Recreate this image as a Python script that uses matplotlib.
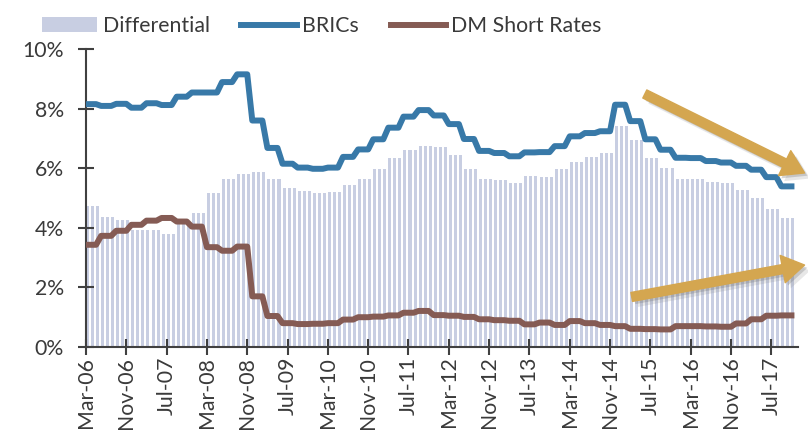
import numpy as np
import matplotlib
matplotlib.use('Agg')
import matplotlib.pyplot as plt
from matplotlib.patches import FancyArrowPatch
import matplotlib.patheffects as pe

plt.rcParams['font.family'] = ['Lato', 'DejaVu Sans']

### readings are quarterly, each one carried for 3 months (Mar-06 .. Nov-17)
brics_q = [8.15, 8.09, 8.16, 8.03, 8.18, 8.12, 8.40, 8.54, 8.54, 8.89,
           9.15, 7.60, 6.68, 6.15, 6.02, 5.98, 6.02, 6.38, 6.63, 6.97,
           7.36, 7.73, 7.95, 7.77, 7.48, 6.98, 6.58, 6.51, 6.40, 6.53,
           6.54, 6.74, 7.07, 7.18, 7.24, 8.13, 7.58, 6.97, 6.62, 6.35,
           6.34, 6.24, 6.19, 6.08, 5.95, 5.70, 5.39]
dm_q = [3.43, 3.73, 3.90, 4.10, 4.24, 4.33, 4.21, 4.04, 3.35, 3.23,
        3.37, 1.70, 1.04, 0.80, 0.77, 0.78, 0.80, 0.92, 1.00, 1.02,
        1.06, 1.15, 1.21, 1.07, 1.05, 1.01, 0.93, 0.90, 0.88, 0.76,
        0.82, 0.74, 0.87, 0.80, 0.74, 0.70, 0.61, 0.60, 0.59, 0.70,
        0.70, 0.69, 0.68, 0.79, 0.93, 1.05, 1.06]
diff_q = [4.72, 4.35, 4.25, 3.93, 3.93, 3.79, 4.19, 4.49, 5.17, 5.65,
          5.79, 5.88, 5.64, 5.33, 5.22, 5.17, 5.20, 5.45, 5.63, 5.96,
          6.33, 6.60, 6.74, 6.71, 6.43, 5.96, 5.63, 5.60, 5.52, 5.75,
          5.72, 5.98, 6.20, 6.38, 6.50, 7.43, 6.95, 6.35, 6.02, 5.64,
          5.63, 5.55, 5.50, 5.28, 5.01, 4.64, 4.33]

tick_labels = ['Mar-06', 'Nov-06', 'Jul-07', 'Mar-08', 'Nov-08', 'Jul-09',
               'Mar-10', 'Nov-10', 'Jul-11', 'Mar-12', 'Nov-12', 'Jul-13',
               'Mar-14', 'Nov-14', 'Jul-15', 'Mar-16', 'Nov-16', 'Jul-17']

brics = np.repeat(brics_q, 3)
dm = np.repeat(dm_q, 3)
diff = np.repeat(diff_q, 3)
months = np.arange(len(brics))

bar_col = '#c8cee2'
blue = '#3879a8'
brown = '#855b54'
arrow_col = '#d4a650'
axis_col = '#404040'
text_col = '#3a3a3a'

fig = plt.figure(figsize=(8.08, 4.33), dpi=100)
ax = fig.add_axes([86 / 808, 1 - 347 / 433, (798 - 86) / 808, (347 - 49) / 433])

ax.bar(months, diff, width=0.6, align='edge', color=bar_col, label='Differential', zorder=1)
ax.plot(months, brics, color=blue, lw=4.3, solid_joinstyle='round', label='BRICs', zorder=3)
ax.plot(months, dm, color=brown, lw=4.3, solid_joinstyle='round', label='DM Short Rates', zorder=3)

ax.set_xlim(0, 141.3)
ax.set_ylim(0, 10)
ax.set_yticks(range(0, 11, 2))
ax.set_yticklabels(['%d%%' % v for v in range(0, 11, 2)])
ax.set_xticks(months[::8])
ax.set_xticklabels(tick_labels, rotation=90)

for s in ['top', 'right']:
    ax.spines[s].set_visible(False)
for s in ['left', 'bottom']:
    ax.spines[s].set_color(axis_col)
    ax.spines[s].set_linewidth(1.5)
ax.tick_params(axis='both', direction='inout', length=11, width=1.5,
               color=axis_col, labelcolor=text_col, labelsize=15.3)
ax.tick_params(axis='y', pad=10.5)
ax.tick_params(axis='x', pad=1.5)

# trend arrows (annotation only)
arrows = [((110.9, 8.49), (142.6, 5.84)), ((108.3, 1.68), (142.6, 2.75))]
for tail, tip in arrows:
    a = FancyArrowPatch(tail, tip,
                        arrowstyle='simple,head_length=16,head_width=20,tail_width=6.5',
                        mutation_scale=1, color=arrow_col, shrinkA=0, shrinkB=0,
                        clip_on=False, zorder=5,
                        path_effects=[pe.SimplePatchShadow(offset=(4, -4), shadow_rgbFace='#888888', alpha=0.2),
                                      pe.SimplePatchShadow(offset=(2, -2), shadow_rgbFace='#777777', alpha=0.3),
                                      pe.Normal()])
    ax.add_patch(a)

h, l = ax.get_legend_handles_labels()
order = [2, 0, 1]
fig.legend([h[i] for i in order], [l[i] for i in order], loc='center left',
           bbox_to_anchor=(42 / 808, 1 - 26 / 433), ncol=3, frameon=False,
           handlelength=2.6, handletextpad=0.25, columnspacing=1.5,
           borderpad=0, borderaxespad=0, fontsize=15.3, labelcolor=text_col)

fig.savefig('out.png', dpi=100)
